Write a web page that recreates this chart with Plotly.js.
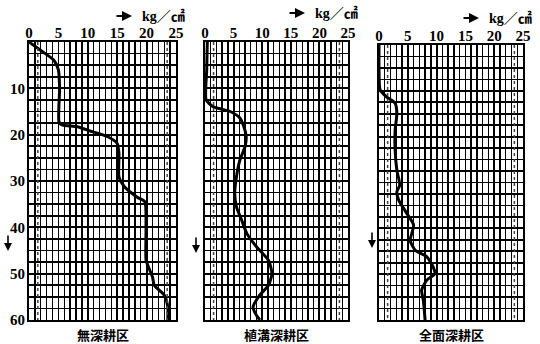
<!DOCTYPE html>
<html><head><meta charset="utf-8">
<script src="https://cdn.plot.ly/plotly-3.0.1.min.js"></script>
<style>body{margin:0;background:#fff}#c{width:540px;height:344px}</style>
</head><body><div id="c"></div>
<script>
// Penetration resistance (kg/cm2) vs depth (cm)
const panelNames = ["無深耕区", "植溝深耕区", "全面深耕区"];
const xTicks = [0, 5, 10, 15, 20, 25];
const yTicks = [10, 20, 30, 40, 50, 60];

const depth1 = [0, 2, 3.9, 6, 10, 17.2, 17.9, 18.3, 19.2, 20.4, 21.9, 24, 29.1, 31.2, 33.5, 34.5, 40, 47, 48.2, 50.7, 52.5, 54.6, 57.2, 60];
const force1 = [0, 2.2, 4.2, 5.0, 5.2, 5.1, 5.6, 8.2, 10.4, 13.3, 15.0, 15.3, 15.3, 16.2, 18.4, 19.7, 19.9, 19.9, 20.2, 21.0, 21.3, 23.0, 23.6, 23.6];

const depth2 = [0, 6, 12.5, 14, 15, 16.4, 18.3, 20.4, 22.6, 25.5, 29.1, 32.7, 35.6, 38.4, 41.3, 44.2, 47.1, 50, 52.5, 54.6, 57.2, 59, 60];
const force2 = [0.4, 0.3, 0.2, 1.5, 4.4, 6.1, 6.8, 7.2, 7.0, 6.1, 5.5, 5.2, 5.5, 6.4, 7.3, 9.0, 11.1, 11.7, 11.1, 9.6, 8.4, 9.0, 9.6];

const depth3 = [0, 5, 9.8, 11.3, 12.7, 14.9, 18.6, 22.9, 27.3, 30.6, 32, 33.8, 36.7, 39.2, 41.1, 42.6, 44.8, 46.2, 48.4, 49.9, 51.3, 53.5, 55.7, 60];
const force3 = [0, 0, 0.2, 1.3, 2.8, 3.1, 2.8, 2.8, 3.1, 3.6, 3.1, 3.4, 4.8, 6.0, 5.7, 5.4, 6.3, 8.3, 9.4, 9.7, 8.3, 7.4, 7.7, 8.0];

const dottedX = [1.5, 23.5];

const xDomains = [[29/540, 176/540], [205/540, 348/540], [379/540, 523/540]];
const yDomains = [[1-320/344, 1-42/344], [1-320/344, 1-42/344], [1-320/344, 1-45/344]];
const unitPos = [[140, 16], [313, 13], [487, 18]];
const downPos = [[8, 243], [196, 245], [372, 240]];

const series = [[force1, depth1], [force2, depth2], [force3, depth3]];
const traces = series.map((s, i) => ({
  x: s[0], y: s[1], type: 'scatter', mode: 'lines',
  line: {color: '#000', width: 3, shape: 'spline', smoothing: 0.6},
  xaxis: 'x' + (i ? i+1 : ''), yaxis: 'y' + (i ? i+1 : ''),
  hoverinfo: 'skip', showlegend: false
}));

const tickFont = {family: 'Liberation Serif, serif', size: 15, color: '#000', weight: 'bold'};
const layout = {
  width: 540, height: 344,
  margin: {l: 0, r: 0, t: 0, b: 0},
  paper_bgcolor: '#fff', plot_bgcolor: '#fff',
  showlegend: false, shapes: [], annotations: []
};
for (let i = 0; i < 3; i++) {
  const xs = i ? 'xaxis' + (i+1) : 'xaxis';
  const ys = i ? 'yaxis' + (i+1) : 'yaxis';
  const xa = i ? 'x' + (i+1) : 'x';
  const ya = i ? 'y' + (i+1) : 'y';
  layout[xs] = {
    domain: xDomains[i], anchor: ya, side: 'top', range: [0, 25],
    tickmode: 'array', tickvals: xTicks, ticktext: xTicks.map(String),
    ticks: '', tickfont: tickFont, ticklabelstandoff: -4,
    showgrid: true, gridcolor: '#000', gridwidth: 1.8,
    minor: {dtick: 1, tick0: 0, showgrid: true, gridcolor: '#000', gridwidth: 1.4, ticks: ''},
    showline: true, linecolor: '#000', linewidth: 2, mirror: true, zeroline: false,
    fixedrange: true
  };
  layout[ys] = {
    domain: yDomains[i], anchor: xa, range: [60, 0],
    tickmode: 'array', tickvals: yTicks, ticktext: yTicks.map(String),
    showticklabels: i === 0, ticks: '', tickfont: tickFont, ticklabelstandoff: -1,
    showgrid: true, gridcolor: '#000', gridwidth: 1.8,
    minor: {dtick: 2.5, tick0: 0, showgrid: true, gridcolor: '#000', gridwidth: 1.6, ticks: ''},
    showline: true, linecolor: '#000', linewidth: 2, mirror: true, zeroline: false,
    fixedrange: true
  };
  dottedX.forEach(dx => layout.shapes.push({
    type: 'line', xref: xa, yref: ya, x0: dx, x1: dx, y0: 0, y1: 60,
    line: {color: '#444', width: 1.5, dash: 'dot'}
  }));
  const xc = (xDomains[i][0] + xDomains[i][1]) / 2;
  layout.annotations.push({
    text: '<b>' + panelNames[i] + '</b>', xref: 'paper', yref: 'paper',
    x: xc, y: 1 - 334/344, xanchor: 'center', yanchor: 'middle', showarrow: false,
    font: {family: 'Noto Sans CJK JP', size: 13, color: '#000'}
  });
  // unit label with arrow
  layout.annotations.push({
    text: 'kg／㎠', xref: 'paper', yref: 'paper',
    x: unitPos[i][0] / 540, y: 1 - unitPos[i][1] / 344, xanchor: 'left', yanchor: 'middle',
    showarrow: false, font: {family: 'Liberation Serif, Noto Sans CJK JP', size: 14, color: '#000', weight: 'bold'}
  });
  layout.annotations.push({
    text: '', xref: 'paper', yref: 'paper',
    x: (unitPos[i][0] - 8) / 540, y: 1 - unitPos[i][1] / 344,
    showarrow: true, ax: -17, ay: 0, arrowhead: 2, arrowsize: 1, arrowwidth: 2, arrowcolor: '#000'
  });
  layout.annotations.push({
    text: '', xref: 'paper', yref: 'paper',
    x: downPos[i][0] / 540, y: 1 - (downPos[i][1] + 8) / 344,
    showarrow: true, ax: 0, ay: -17, arrowhead: 2, arrowsize: 1, arrowwidth: 1.6, arrowcolor: '#000'
  });
}
Plotly.newPlot('c', traces, layout, {staticPlot: true, displayModeBar: false});
</script></body></html>
